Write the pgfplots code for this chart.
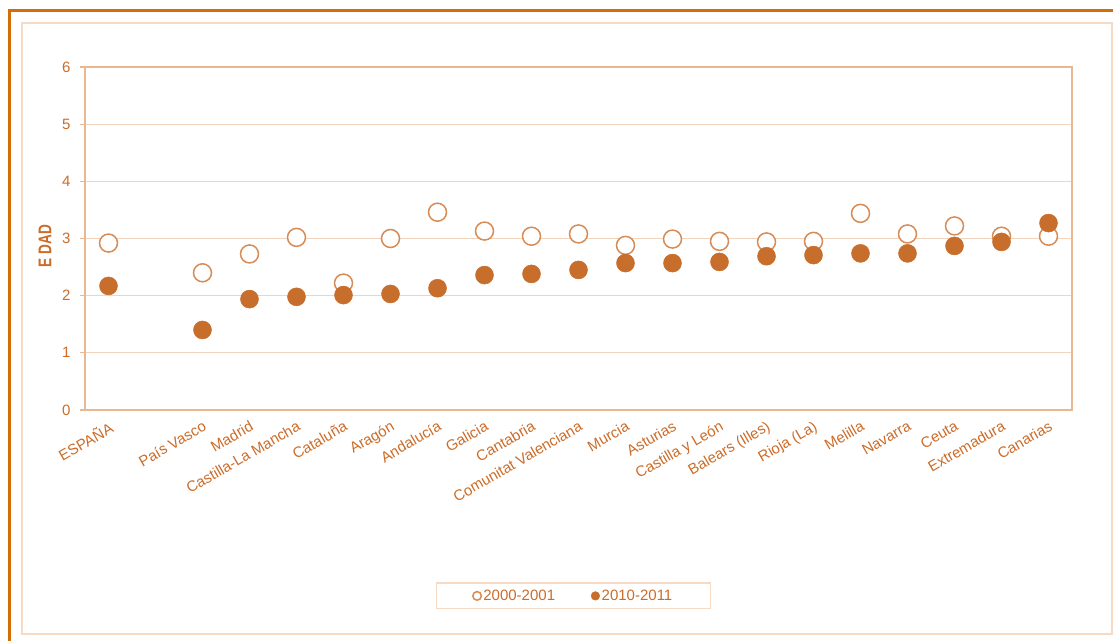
\documentclass[border=0pt]{standalone}
\usepackage{pgfplots}
\pgfplotsset{compat=1.18}
\usepackage{fontspec}
\setmainfont{Liberation Sans}
\definecolor{frameor}{RGB}{212,108,8}
\definecolor{innerfr}{RGB}{246,218,196}
\definecolor{axcol}{RGB}{232,184,146}
\definecolor{gridcol}{RGB}{242,212,188}
\definecolor{txtcol}{RGB}{204,108,40}
\definecolor{fillmk}{RGB}{200,110,45}
\definecolor{openmk}{RGB}{215,140,85}
\begin{document}
\begin{tikzpicture}[x=1pt,y=1pt]
\useasboundingbox (0,0) rectangle (1113,640);
\fill[white] (0,0) rectangle (1113,640);
\draw[frameor, line width=3pt] (9.5,-3) -- (9.5,629.5) -- (1118,629.5);
\draw[innerfr, line width=2pt] (22,6) rectangle (1112,617);
\begin{axis}[
  at={(85pt,230pt)}, anchor=south west,
  scale only axis, width=987pt, height=343pt,
  xmin=-0.5, xmax=20.5, ymin=0, ymax=6,
  axis line style={axcol, line width=1.5pt},
  ytick={0,1,...,6},
  ymajorgrids, major grid style={gridcol, line width=1.2pt},
  xtick={0,2,3,...,20},
  xticklabels={ESPAÑA, País Vasco, Madrid, Castilla-La Mancha, Cataluña, Aragón, Andalucía, Galicia, Cantabria, Comunitat Valenciana, Murcia, Asturias, Castilla y León, Balears (Illes), Rioja (La), Melilla, Navarra, Ceuta, Extremadura, Canarias},
  minor xtick={0.5,1.5,...,19.5},
  tick align=outside,
  tick pos=left,
  xtick style={draw=none},
  minor x tick style={axcol, line width=1.2pt},
  minor tick length=6pt,
  ytick style={axcol, line width=1.2pt},
  major tick length=5pt,
  /pgf/number format/assume math mode=true,
  tick label style={font=\fontsize{15}{17}\selectfont, text=txtcol},
  x tick label style={rotate=30, anchor=north east, inner sep=1pt, xshift=-2pt, yshift=-3pt},
  y tick label style={xshift=-6pt},
  legend style={at={(0.495,-0.542)}, anchor=center, draw=innerfr, line width=1.2pt,
    font=\fontsize{15}{17}\selectfont, text=txtcol, inner xsep=36pt, inner ysep=5pt,
    /tikz/every even column/.append style={column sep=34pt}},
  legend columns=2,
  legend image code/.code={\draw[mark size=4.3pt, line width=1pt] plot coordinates {(4pt,0pt)};},
  clip=false,
]
\addplot[only marks, mark=*, mark size=9pt, mark options={fill=white, draw=openmk, line width=1.5pt}] coordinates {
(0,2.92) (2,2.40) (3,2.73) (4,3.02) (5,2.22) (6,3.00) (7,3.46) (8,3.13) (9,3.04) (10,3.08)
(11,2.88) (12,2.99) (13,2.95) (14,2.94) (15,2.95) (16,3.44) (17,3.08) (18,3.22) (19,3.04) (20,3.04)};
\addlegendentry{2000-2001}
\addplot[only marks, mark=*, mark size=9pt, mark options={fill=fillmk, draw=fillmk, line width=0.5pt}] coordinates {
(0,2.17) (2,1.40) (3,1.94) (4,1.98) (5,2.01) (6,2.03) (7,2.13) (8,2.36) (9,2.38) (10,2.45)
(11,2.57) (12,2.57) (13,2.59) (14,2.69) (15,2.71) (16,2.74) (17,2.74) (18,2.87) (19,2.94) (20,3.27)};
\addlegendentry{2010-2011}
\end{axis}
\node[rotate=90, text=txtcol, inner sep=0pt] at (45,394) {\scalebox{0.85}[1.15]{\fontsize{16}{18}\selectfont\bfseries E DAD}};
\end{tikzpicture}
\end{document}
